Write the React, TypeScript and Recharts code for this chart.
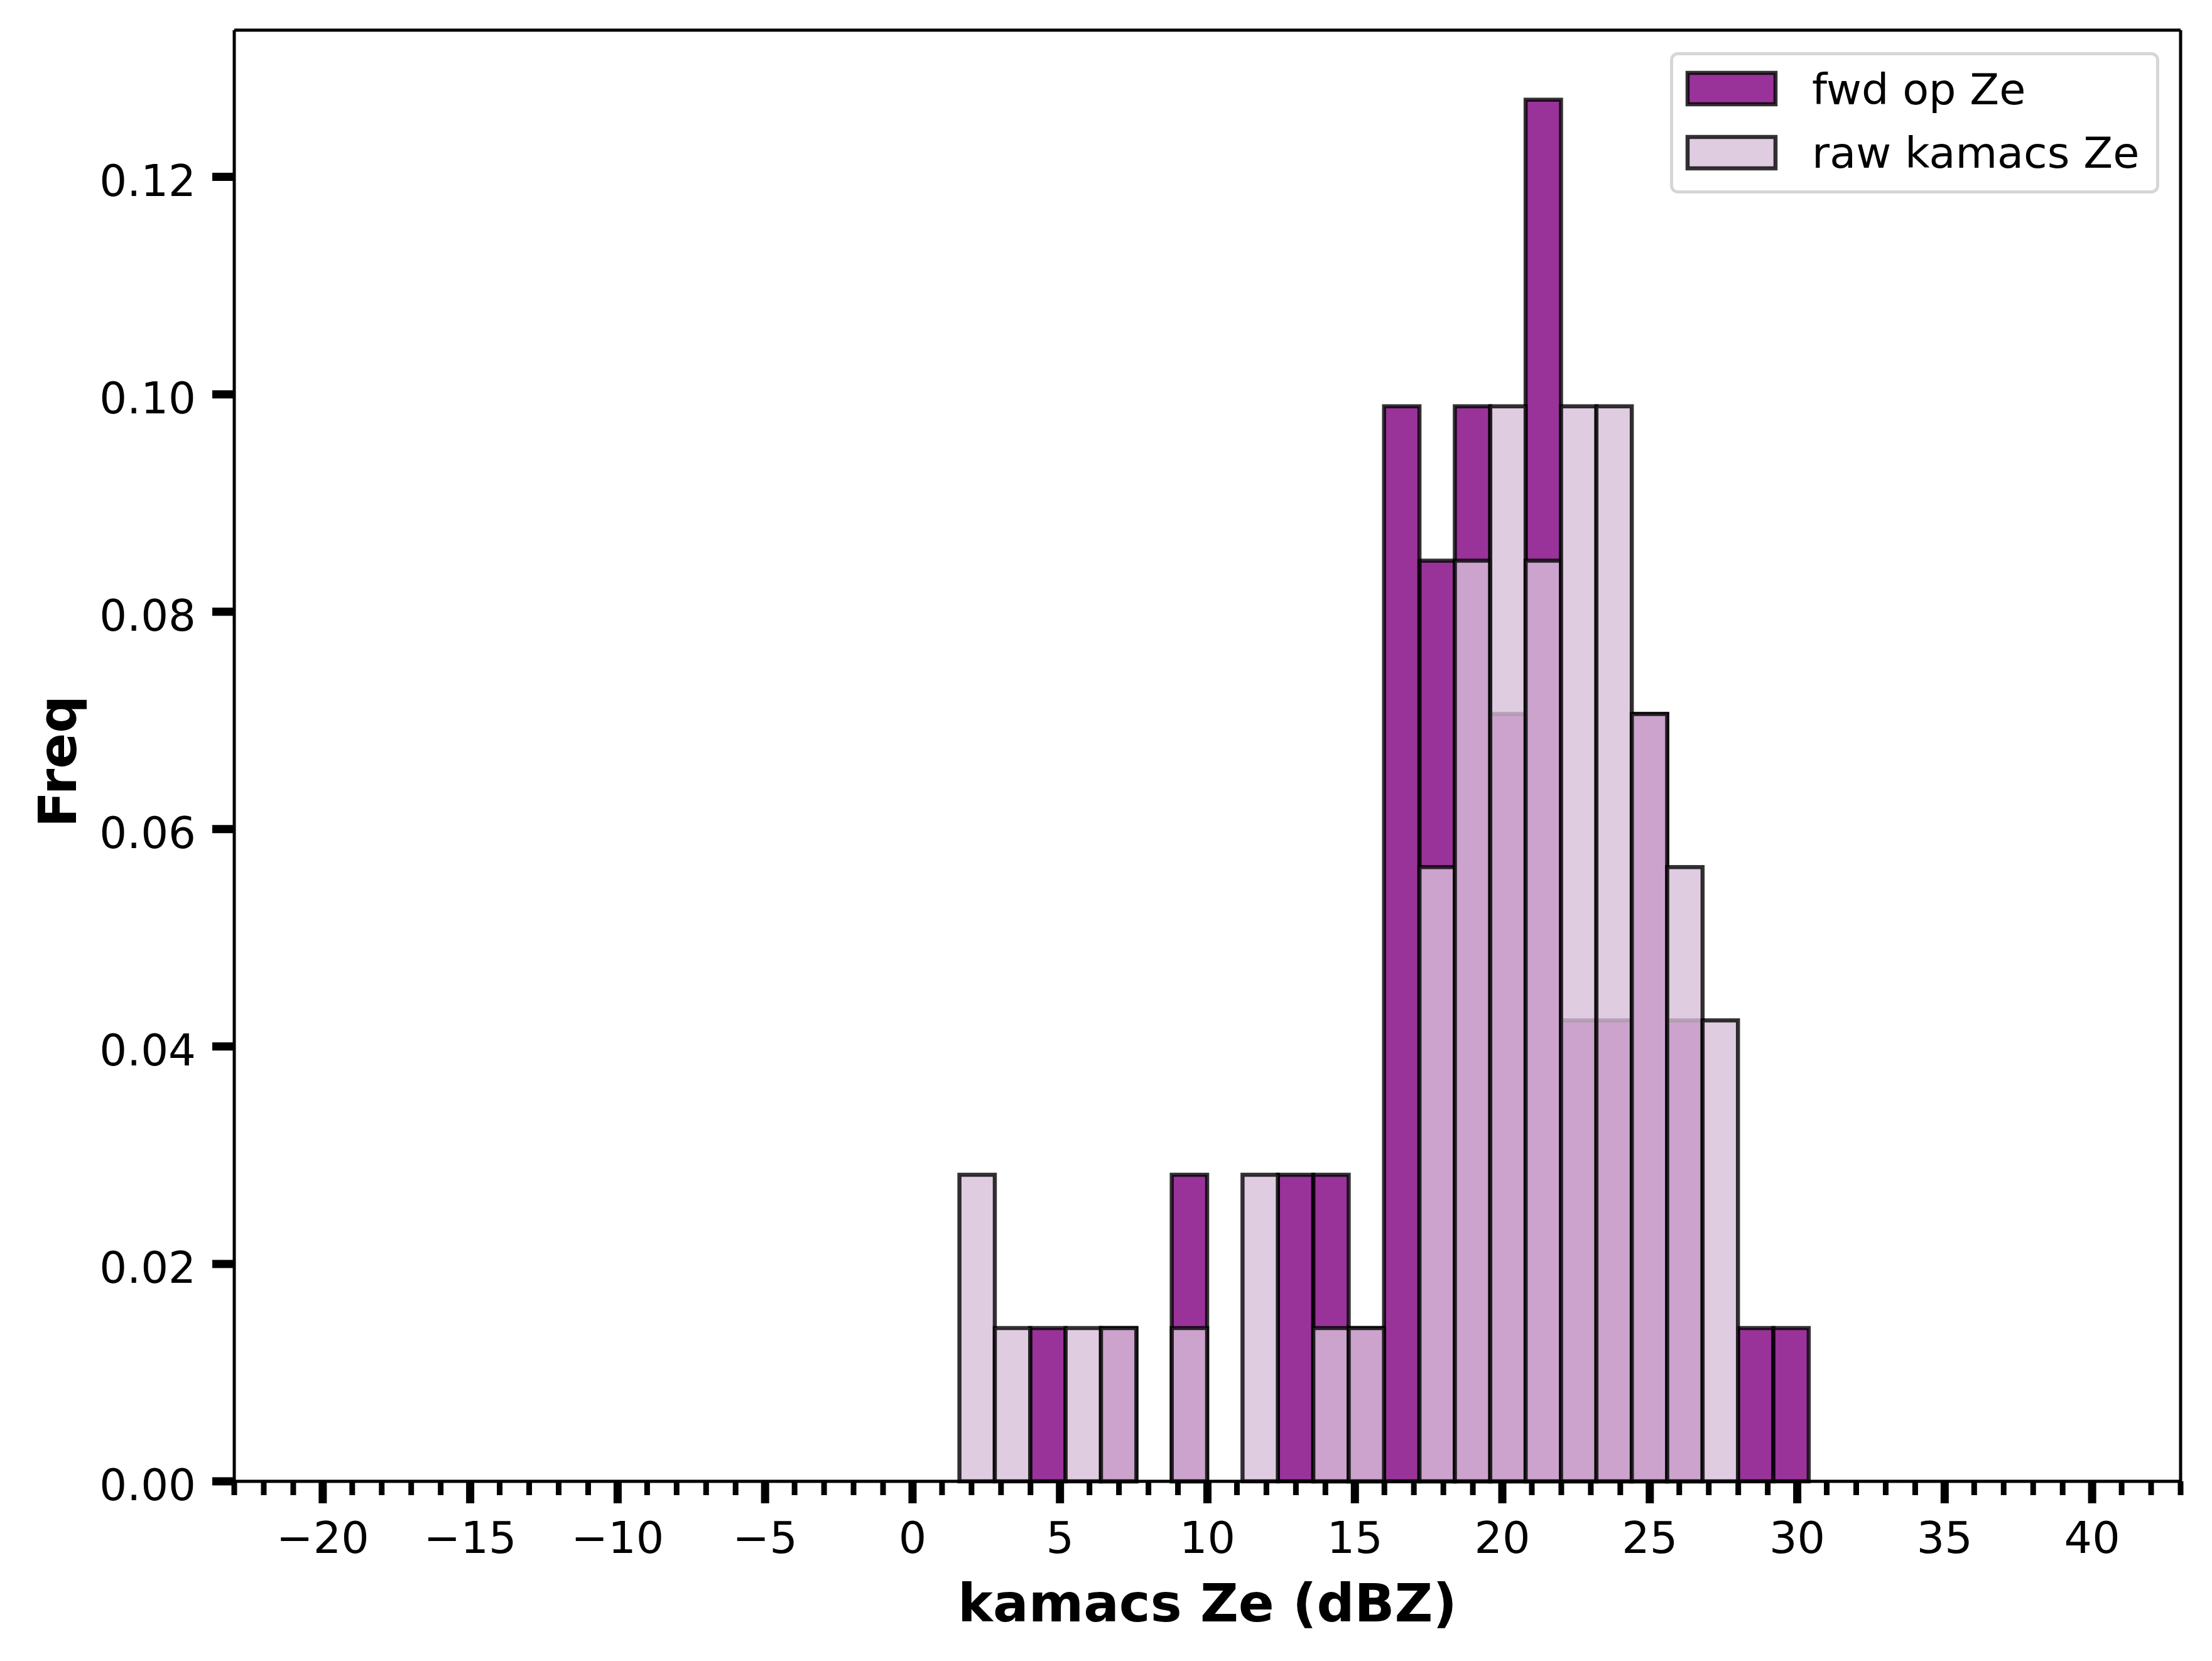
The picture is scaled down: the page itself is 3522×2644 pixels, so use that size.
import React from 'react';
import { ComposedChart, XAxis, YAxis, ReferenceArea, ReferenceLine, Legend } from 'recharts';

// ---- data ----
const binEdges = [
  1.59, 2.79, 3.99, 5.19, 6.39, 7.59, 8.79, 9.99, 11.19, 12.39, 13.59, 14.79, 15.99,
  17.19, 18.39, 19.59, 20.79, 21.99, 23.19, 24.39, 25.59, 26.79, 27.99, 29.19, 30.39,
];
const fwdOpZe = [
  0, 0, 0.0141, 0, 0.0141, 0, 0.0282, 0, 0, 0.0282, 0.0282, 0.0141, 0.0989, 0.0847,
  0.0989, 0.0706, 0.1271, 0.0424, 0.0424, 0.0706, 0.0424, 0, 0.0141, 0.0141,
];
const rawKamacsZe = [
  0.0282, 0.0141, 0, 0.0141, 0.0141, 0, 0.0141, 0, 0.0282, 0, 0.0141, 0.0141, 0,
  0.0565, 0.0847, 0.0989, 0.0847, 0.0989, 0.0989, 0.0706, 0.0565, 0.0424, 0, 0,
];
const seriesNames = ['fwd op Ze', 'raw kamacs Ze'];
const xMajorTicks = [-20, -15, -10, -5, 0, 5, 10, 15, 20, 25, 30, 35, 40];
const yTicks = [0, 0.02, 0.04, 0.06, 0.08, 0.1, 0.12];
const xDomain: [number, number] = [-23, 43];
const yDomain: [number, number] = [0, 0.1335];
const xAllTicks: number[] = [];
for (let v = xDomain[0]; v <= xDomain[1]; v++) xAllTicks.push(v);

// ---- styling / layout ----
const W = 3522;
const H = 2644;
const PLOT_LEFT = 373;
const PLOT_TOP = 48;
const PLOT_RIGHT = 3472;
const PLOT_BOTTOM = 2358;
const FONT = '"DejaVu Sans", "Liberation Sans", sans-serif';
const FWD_COLOR = '#800080';
const RAW_COLOR = '#D8BFD8';
const ALPHA = 0.8;
const EDGE = 6.5;
const SPINE = 5;

const fmtX = (v: number) => (v < 0 ? '\u2212' + Math.abs(v) : String(v));

const XTick = (props: any) => {
  const { x, y, payload } = props;
  const v = payload.value;
  const major = xMajorTicks.includes(v);
  return (
    <g>
      <line x1={x} x2={x} y1={y} y2={y + (major ? 35 : 22)} stroke="#000" strokeWidth={major ? 13 : 9} />
      {major && (
        <text x={x} y={y + 114} textAnchor="middle" fontFamily={FONT} fontSize={70} fill="#000">
          {fmtX(v)}
        </text>
      )}
    </g>
  );
};

const YTick = (props: any) => {
  const { x, y, payload } = props;
  return (
    <g>
      <line x1={x - 35} x2={x} y1={y} y2={y} stroke="#000" strokeWidth={13} />
      <text x={x - 61} y={y + 30} textAnchor="end" fontFamily={FONT} fontSize={69} fill="#000">
        {payload.value.toFixed(2)}
      </text>
    </g>
  );
};

const XTitle = () => (
  <text x={(PLOT_LEFT + PLOT_RIGHT) / 2} y={2581} textAnchor="middle" fontFamily={FONT} fontWeight="bold" fontSize={84} fill="#000">
    kamacs Ze (dBZ)
  </text>
);

const YTitle = () => (
  <text
    x={121}
    y={1212}
    textAnchor="middle"
    transform="rotate(-90, 121, 1212)"
    fontFamily={FONT}
    fontWeight="bold"
    fontSize={84}
    fill="#000"
  >
    Freq
  </text>
);

const LegendBox = () => {
  const colors = [FWD_COLOR, RAW_COLOR];
  return (
    <svg width={779} height={225} style={{ display: 'block' }}>
      <rect x={2.5} y={2.5} width={774} height={220} rx={10} ry={10} fill="#fff" fillOpacity={0.8} stroke="#d6d6d6" strokeWidth={5} />
      {seriesNames.map((name, i) => (
        <g key={name}>
          <rect
            x={28}
            y={33 + i * 102}
            width={140}
            height={50}
            fill={colors[i]}
            fillOpacity={ALPHA}
            stroke="#000"
            strokeOpacity={ALPHA}
            strokeWidth={EDGE}
          />
          <text x={226} y={83 + i * 101} fontFamily={FONT} fontSize={68.5} fill="#000">
            {name}
          </text>
        </g>
      ))}
    </svg>
  );
};

export default function App() {
  return (
    <div style={{ position: 'absolute', left: 0, top: 0, width: W, height: H, background: '#fff' }}>
      <ComposedChart
        width={W}
        height={H}
        margin={{ top: PLOT_TOP, right: W - PLOT_RIGHT, bottom: 0, left: 0 }}
      >
        <XAxis
          type="number"
          dataKey="x"
          domain={xDomain}
          allowDataOverflow
          ticks={xAllTicks}
          interval={0}
          tick={(p: any) => <XTick {...p} />}
          tickLine={false}
          tickSize={0}
          tickMargin={0}
          axisLine={{ stroke: '#000', strokeWidth: SPINE }}
          height={H - PLOT_BOTTOM}
          label={{ content: XTitle }}
        />
        <YAxis
          type="number"
          domain={yDomain}
          allowDataOverflow
          ticks={yTicks}
          interval={0}
          tick={(p: any) => <YTick {...p} />}
          tickLine={false}
          tickSize={0}
          tickMargin={0}
          axisLine={{ stroke: '#000', strokeWidth: SPINE }}
          width={PLOT_LEFT}
          label={{ content: YTitle }}
        />
        {fwdOpZe.map((v, i) =>
          v > 0 ? (
            <ReferenceArea
              key={'fwd' + i}
              x1={binEdges[i]}
              x2={binEdges[i + 1]}
              y1={0}
              y2={v}
              fill={FWD_COLOR}
              fillOpacity={ALPHA}
              stroke="#000"
              strokeOpacity={ALPHA}
              strokeWidth={EDGE}
              ifOverflow="visible"
            />
          ) : null
        )}
        {rawKamacsZe.map((v, i) =>
          v > 0 ? (
            <ReferenceArea
              key={'raw' + i}
              x1={binEdges[i]}
              x2={binEdges[i + 1]}
              y1={0}
              y2={v}
              fill={RAW_COLOR}
              fillOpacity={ALPHA}
              stroke="#000"
              strokeOpacity={ALPHA}
              strokeWidth={EDGE}
              ifOverflow="visible"
            />
          ) : null
        )}
        <ReferenceLine y={yDomain[1]} stroke="#000" strokeWidth={SPINE} ifOverflow="visible" />
        <ReferenceLine x={xDomain[1]} stroke="#000" strokeWidth={SPINE} ifOverflow="visible" />
        <Legend
          content={LegendBox}
          layout="horizontal"
          verticalAlign="middle"
          align="center"
          wrapperStyle={{ left: 2659, top: 83, width: 779, height: 225 }}
        />
      </ComposedChart>
    </div>
  );
}
